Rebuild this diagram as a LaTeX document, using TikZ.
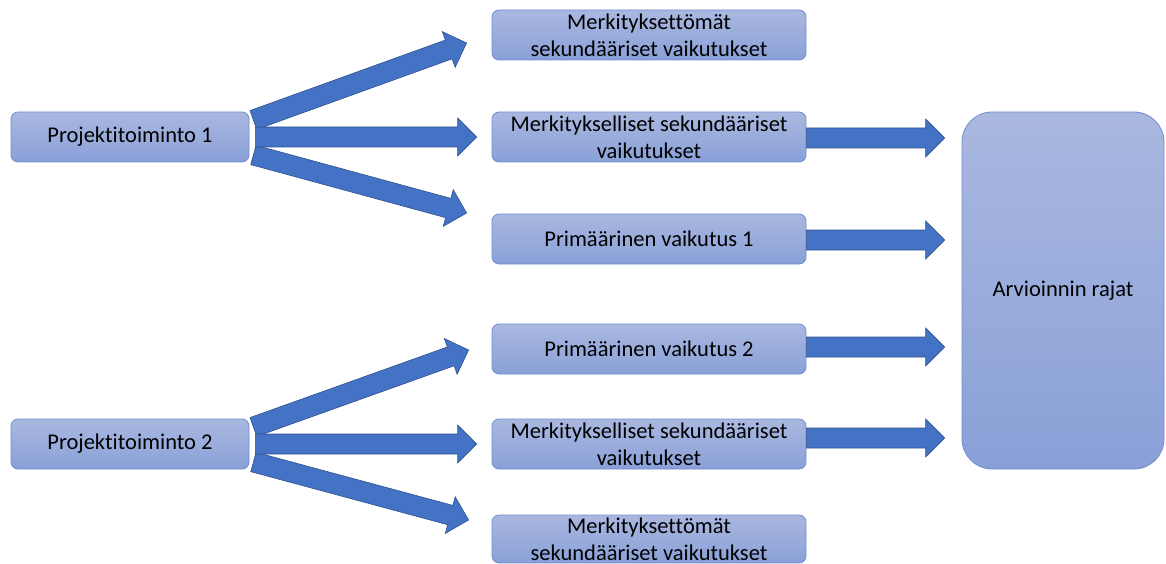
\documentclass[tikz,border=0pt]{standalone}
\usepackage{fontspec}
\setmainfont{Carlito}[Ligatures=NoCommon]
\usetikzlibrary{positioning, calc}
\definecolor{boxtop}{RGB}{170,184,224}
\definecolor{boxbottom}{RGB}{137,160,215}
\definecolor{boxline}{RGB}{112,142,207}
\definecolor{arrowblue}{RGB}{68,114,196}
\definecolor{arrowline}{RGB}{47,82,143}

\tikzset{
  effect/.style={rectangle, rounded corners=7pt, draw=boxline, line width=0.8pt, top color=boxtop, bottom color=boxbottom, minimum width=314pt, minimum height=50pt, inner sep=0pt, align=center},
  project/.style={effect, minimum width=238pt},
  limits/.style={effect, rounded corners=30pt, minimum width=202pt, minimum height=357pt},
  fatarrow/.style={fill=arrowblue, draw=arrowline, line width=0.6pt, line join=miter}
}

% block arrow from #1 to tip #2
\newcommand{\blockarrow}[2]{%
  \coordinate (ah) at ($#2!19pt!#1$);
  \draw[fatarrow] ($#1!10pt!90:#2$) -- ($(ah)!10pt!90:#2$) -- ($(ah)!19pt!90:#2$) -- #2
    -- ($(ah)!19pt!-90:#2$) -- ($(ah)!10pt!-90:#2$) -- ($#1!10pt!-90:#2$) -- cycle;
}

\begin{document}
\begin{tikzpicture}[x=1pt, y=-1pt, every node/.style={font=\fontsize{22.5}{27}\selectfont}]
\useasboundingbox (0,0) rectangle (1166,564);

% Projects
\node[project] (p1) at (130,137) {Projektitoiminto 1};
\node[project] (p2) at (130,444) {Projektitoiminto 2};

% Effects
\node[effect] (m1) at (649,35) {Merkityksettömät\\sekundääriset vaikutukset};
\node[effect] (m2) at (649,137) {Merkitykselliset sekundääriset\\vaikutukset};
\node[effect] (m3) at (649,239) {Primäärinen vaikutus 1};
\node[effect] (m4) at (649,349) {Primäärinen vaikutus 2};
\node[effect] (m5) at (649,444) {Merkitykselliset sekundääriset\\vaikutukset};
\node[effect, minimum height=48pt] (m6) at (649,539) {Merkityksettömät\\sekundääriset vaikutukset};

% Boundary
\node[limits] (lim) at (1063,290.5) {Arvioinnin rajat};

% Arrow tips
\coordinate (t1) at ($(m1.west)+(-25,8)$);
\coordinate (t2) at ($(m2.west)+(-15,0)$);
\coordinate (t3) at ($(m3.west)+(-25,-26)$);
\coordinate (t4) at ($(m4.west)+(-23,1)$);
\coordinate (t5) at ($(m5.west)+(-15,0)$);
\coordinate (t6) at ($(m6.west)+(-23,-19)$);
\coordinate (e2) at ($(lim.west |- m2.east)+(-17,1)$);
\coordinate (e3) at ($(lim.west |- m3.east)+(-17,1)$);
\coordinate (e4) at ($(lim.west |- m4.east)+(-17,-2)$);
\coordinate (e5) at ($(lim.west |- m5.east)+(-17,-6)$);

% Project arrows
\blockarrow{([xshift=4pt,yshift=17pt]p1.east)}{(t1)}
\blockarrow{([xshift=4pt,yshift=-18pt]p1.east)}{(t3)}
\blockarrow{([xshift=6pt]p1.east)}{(t2)}
\blockarrow{([xshift=4pt,yshift=17pt]p2.east)}{(t4)}
\blockarrow{([xshift=4pt,yshift=-18pt]p2.east)}{(t6)}
\blockarrow{([xshift=6pt]p2.east)}{(t5)}

% Effect arrows
\blockarrow{([yshift=-1pt]m2.east)}{(e2)}
\blockarrow{([yshift=-1pt]m3.east)}{(e3)}
\blockarrow{([yshift=2pt]m4.east)}{(e4)}
\blockarrow{([yshift=6pt]m5.east)}{(e5)}
\end{tikzpicture}
\end{document}
